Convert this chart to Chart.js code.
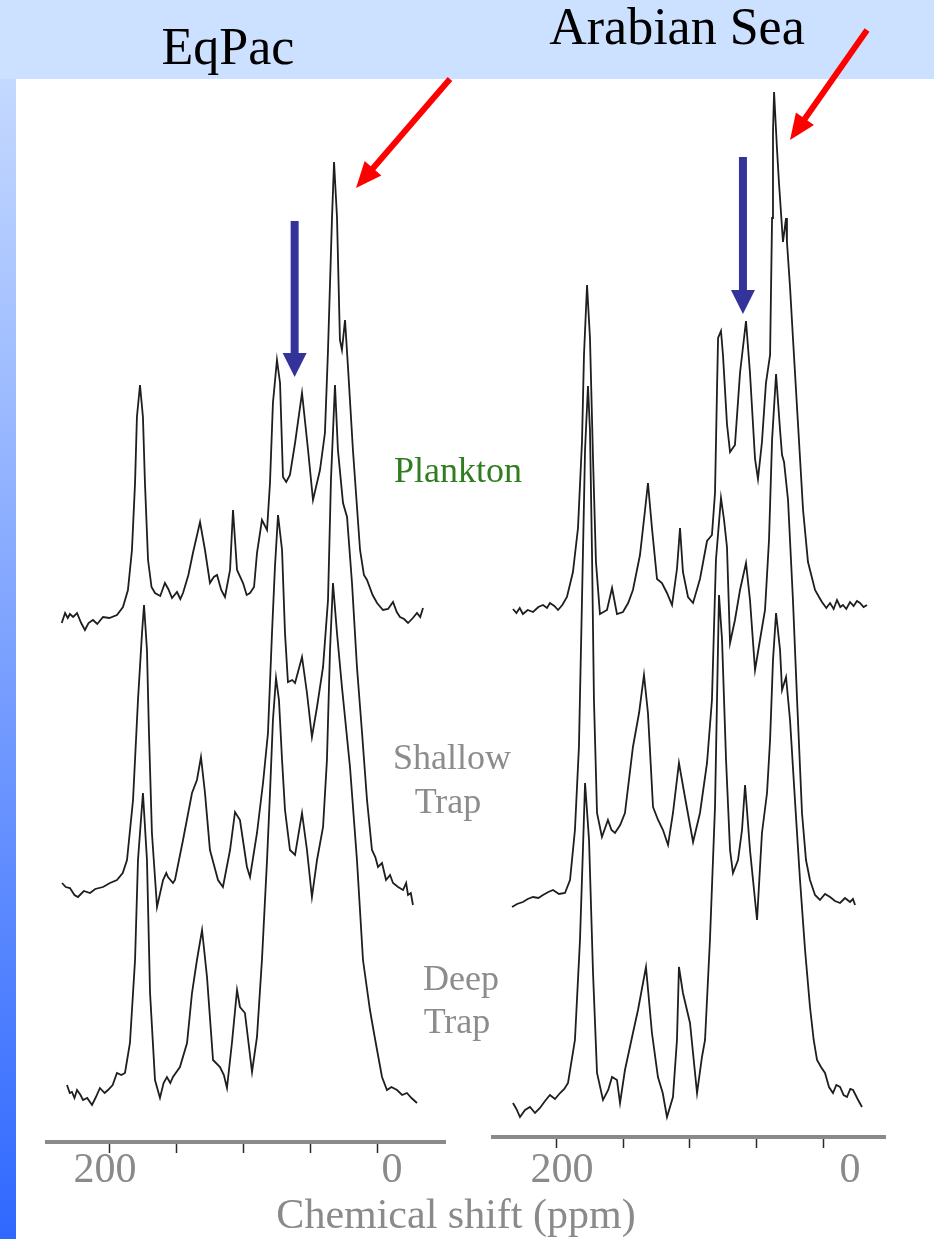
<!DOCTYPE html>
<html>
<head>
<meta charset="utf-8">
<title>13C NMR spectra - EqPac / Arabian Sea</title>
<script src="https://cdn.jsdelivr.net/npm/chart.js@4.4.1/dist/chart.umd.min.js"></script>
<style>
    body {
        margin: 0;
        width: 934px;
        height: 1239px;
        position: relative;
        overflow: hidden;
        background: linear-gradient(to bottom, #cfe1ff 0%, #3068ff 100%);
        font-family: "Liberation Serif", "Times New Roman", serif;
    }
    #band { position: absolute; left: 0; top: 0; width: 934px; height: 79px; background: #cce0ff; }
    #sheet { position: absolute; left: 16px; top: 79px; width: 918px; height: 1160px; background: #fff; }
    canvas { position: absolute; top: 0; }
    .txt { position: absolute; white-space: nowrap; line-height: 1; transform: translateX(-50%); }
    .title { font-size: 52px; color: #000; }
    .tag { font-size: 36px; color: #8c8c8c; }
    .axis { font-size: 42px; color: #8a8a8a; }
</style>
</head>
<body>
<div id="band"></div>
<div id="sheet"></div>

<canvas id="eqpac" width="470" height="1239" style="left:0"></canvas>
<canvas id="arabian" width="464" height="1239" style="left:470px"></canvas>

<div class="txt title" style="left:228px; top:21px">EqPac</div>
<div class="txt title" style="left:677px; top:1px">Arabian Sea</div>

<div class="txt tag" style="left:458px; top:452px; color:#2e7d1f">Plankton</div>
<div class="txt tag" style="left:452px; top:739px">Shallow</div>
<div class="txt tag" style="left:448px; top:783px">Trap</div>
<div class="txt tag" style="left:461px; top:960px">Deep</div>
<div class="txt tag" style="left:457px; top:1003px">Trap</div>

<div class="txt axis" style="left:105px; top:1147px">200</div>
<div class="txt axis" style="left:392px; top:1147px">0</div>
<div class="txt axis" style="left:562px; top:1147px">200</div>
<div class="txt axis" style="left:850px; top:1147px">0</div>
<div class="txt axis" style="left:456px; top:1193px">Chemical shift (ppm)</div>

<script>
"use strict";

// chemical shift ticks (ppm)
const tickPpm = [200, 150, 100, 50, 0];

// spectra as [ppm, intensity] pairs, intensity relative to each trace's own baseline
const eqpacPlankton = [
    [236.0, -6], [233.5, 4], [231.5, -1], [229.9, 3], [227.5, 0], [224.6, 4], [221.5, -6], [218.7, -13],
    [216.0, -6], [212.7, -3], [209.5, -7], [205.2, 0], [200.5, -1], [194.8, 2], [190.3, 10], [186.6, 27],
    [183.6, 67], [181.3, 134], [179.9, 200], [177.6, 232], [175.4, 200], [173.9, 134], [171.6, 57], [169.0, 30],
    [166.4, 24], [162.5, 21], [159.0, 34], [156.5, 28], [153.7, 19], [150.0, 25], [147.5, 18], [145.5, 24],
    [141.5, 42], [138.1, 64], [132.8, 95], [129.1, 67], [125.4, 34], [122.5, 40], [120.1, 42], [117.0, 27],
    [114.2, 20], [110.4, 47], [108.2, 107], [105.2, 47], [100.7, 34], [98.0, 22], [95.5, 24], [92.5, 30],
    [90.3, 64], [86.6, 97], [82.8, 87], [80.6, 134], [78.4, 214], [75.4, 257], [73.1, 234], [70.9, 140],
    [68.5, 135], [65.7, 142], [61.9, 174], [56.7, 224], [52.2, 167], [48.5, 117], [43.3, 147], [39.6, 184],
    [37.3, 267], [34.3, 400], [32.8, 455], [30.6, 400], [28.4, 277], [26.9, 267], [24.6, 297], [22.4, 250],
    [18.7, 167], [13.4, 67], [10.5, 42], [8.2, 37], [4.0, 22], [0.7, 14], [-3.7, 7], [-7.5, 8],
    [-11.2, 15], [-14.0, 5], [-16.4, 0], [-19.5, -2], [-22.4, -6], [-26.0, -1], [-29.1, 4], [-31.5, 0], [-33.6, 9]
];

const eqpacShallow = [
    [235.8, 2], [233.0, -2], [229.9, -3], [226.5, -10], [223.9, -12], [219.5, -6], [214.9, -8], [211.0, -4],
    [205.2, -2], [200.0, 2], [194.8, 5], [190.5, 12], [187.3, 25], [182.8, 85], [179.1, 185], [176.1, 252],
    [174.6, 280], [172.4, 235], [170.9, 152], [168.7, 52], [164.9, -22], [160.4, 5], [158.0, 12], [156.7, 8],
    [153.0, 2], [151.5, 5], [145.5, 45], [138.8, 92], [135.1, 105], [132.1, 128], [129.1, 92], [125.4, 35],
    [122.0, 18], [119.4, 5], [115.7, -2], [110.4, 35], [106.7, 73], [103.0, 65], [97.8, 18], [95.5, 8],
    [90.3, 52], [85.8, 102], [82.1, 152], [79.1, 252], [76.9, 318], [74.6, 370], [71.6, 335], [69.4, 252],
    [67.2, 203], [64.0, 205], [61.9, 202], [56.7, 228], [53.0, 192], [49.3, 148], [45.5, 178], [41.0, 218],
    [37.3, 285], [35.1, 405], [32.1, 500], [29.9, 435], [26.1, 382], [23.1, 368], [19.4, 302], [15.7, 218],
    [11.9, 152], [8.2, 85], [4.5, 35], [2.0, 28], [0.0, 18], [-3.0, 22], [-6.0, 5], [-9.0, 10],
    [-11.2, 2], [-15.0, -2], [-18.7, -5], [-21.0, 2], [-22.4, -10], [-24.5, -8], [-26.1, -20]
];

const eqpacDeep = [
    [232.1, 10], [230.0, 2], [228.4, 3], [226.5, -3], [224.6, 5], [222.0, 0], [220.1, -5], [217.0, -3],
    [213.4, -10], [210.5, -2], [207.5, 7], [204.0, 2], [201.5, 5], [198.0, 10], [194.8, 22], [191.5, 20],
    [188.8, 22], [185.1, 52], [181.3, 135], [179.1, 235], [175.4, 302], [172.4, 235], [170.1, 102], [166.4, 15],
    [162.7, -3], [160.0, 12], [157.5, 18], [155.0, 12], [153.0, 18], [147.8, 28], [142.5, 52], [138.8, 102],
    [135.1, 135], [131.3, 165], [127.6, 118], [123.1, 35], [117.9, 28], [115.0, 20], [112.7, 7], [109.0, 52],
    [105.2, 105], [103.0, 88], [99.3, 82], [94.0, 23], [90.3, 58], [86.6, 135], [82.8, 235], [80.6, 302],
    [78.4, 375], [76.1, 417], [73.9, 395], [71.6, 335], [69.4, 285], [65.7, 245], [61.9, 240], [56.7, 282],
    [53.0, 245], [49.3, 198], [45.5, 235], [41.0, 268], [38.1, 335], [35.8, 445], [33.6, 512], [30.6, 462],
    [26.9, 408], [20.9, 328], [15.7, 235], [11.2, 135], [6.0, 85], [3.0, 62], [0.7, 45], [-3.0, 18],
    [-6.7, 5], [-10.0, 8], [-14.2, 5], [-18.0, 0], [-21.6, 2], [-25.0, -3], [-29.1, -8]
];

const arabianPlankton = [
    [233.1, -4], [230.5, -8], [228.0, -3], [225.6, -9], [222.0, -5], [218.0, -7], [214.0, -2], [210.5, 0],
    [207.5, -3], [205.3, 2], [202.0, -1], [199.2, -5], [196.0, 0], [192.5, 8], [188.0, 33], [184.2, 77],
    [181.2, 163], [179.7, 250], [177.4, 320], [175.2, 267], [172.9, 146], [170.7, 43], [167.7, -9], [162.4, -5],
    [158.6, 17], [154.9, -9], [150.4, -7], [146.5, 2], [142.9, 15], [137.6, 50], [133.8, 95], [131.6, 122],
    [128.6, 77], [124.8, 26], [121.1, 22], [117.3, 12], [113.5, 0], [109.8, 36], [107.5, 77], [105.3, 33],
    [101.5, 8], [97.7, 2], [92.5, 26], [87.2, 64], [83.5, 70], [81.2, 112], [79.7, 215], [78.9, 267],
    [76.7, 274], [75.2, 250], [72.2, 181], [69.9, 153], [66.2, 160], [62.4, 232], [57.9, 284], [54.9, 232],
    [51.1, 146], [48.9, 126], [45.9, 163], [42.9, 222], [39.8, 250], [38.3, 387], [37.6, 473], [36.8, 513],
    [34.6, 456], [33.1, 422], [30.1, 363], [27.8, 387], [27.1, 363], [24.8, 318], [22.6, 267], [18.8, 181],
    [15.0, 95], [11.3, 43], [6.0, 15], [3.0, 8], [0.8, 3], [-2.5, -3], [-5.3, 2], [-8.0, -4],
    [-10.5, 5], [-13.0, -2], [-15.0, 0], [-17.5, -4], [-20.3, 3], [-23.0, -1], [-25.5, 4], [-27.8, 2],
    [-30.5, -2], [-33.1, 0]
];

const arabianShallow = [
    [233.8, -12], [230.0, -9], [225.6, -7], [222.0, -4], [218.0, -2], [214.0, -3], [210.5, 0], [206.5, 3],
    [203.0, 5], [198.5, 1], [194.0, 2], [190.2, 15], [186.5, 65], [183.5, 148], [181.2, 295], [178.9, 445],
    [176.7, 509], [175.2, 465], [173.7, 345], [172.2, 195], [169.9, 82], [166.2, 58], [161.7, 75], [159.0, 65],
    [156.4, 62], [152.5, 70], [148.9, 82], [142.9, 148], [138.3, 182], [134.6, 220], [131.6, 182], [127.8, 88],
    [124.0, 75], [120.3, 65], [116.5, 50], [112.8, 82], [108.3, 132], [103.8, 98], [97.7, 53], [92.5, 82],
    [87.2, 132], [83.5, 195], [80.5, 335], [76.7, 397], [74.4, 375], [72.2, 348], [69.9, 252], [66.2, 275],
    [62.4, 305], [57.9, 332], [54.9, 295], [51.1, 225], [47.4, 255], [43.6, 285], [40.6, 355], [38.3, 455],
    [35.3, 521], [32.3, 465], [30.8, 440], [29.3, 433], [26.3, 395], [22.6, 295], [19.5, 195], [15.8, 82],
    [12.8, 35], [9.8, 15], [6.0, 0], [2.3, -5], [-1.5, 1], [-5.3, -2], [-9.0, -6], [-12.8, -8],
    [-16.5, -3], [-20.3, -7], [-22.5, -4], [-24.1, -10]
];

const arabianDeep = [
    [233.1, -8], [230.5, -14], [227.8, -22], [224.0, -15], [220.3, -12], [216.5, -18], [212.8, -13], [209.0, -6],
    [205.3, 0], [201.5, -4], [197.7, 2], [194.5, 6], [191.7, 12], [186.5, 55], [182.7, 155], [180.5, 245],
    [178.9, 312], [175.9, 255], [172.9, 122], [169.9, 22], [165.4, -5], [161.5, 5], [158.6, 18], [154.9, 15],
    [152.6, -8], [148.9, 25], [142.9, 62], [139.1, 85], [133.1, 128], [128.6, 62], [124.1, 18], [120.5, 2],
    [117.3, -22], [112.8, -2], [109.8, 55], [108.3, 128], [105.3, 102], [100.0, 72], [94.7, 2], [91.0, 38],
    [88.7, 55], [85.0, 155], [81.2, 288], [79.7, 395], [78.2, 500], [75.9, 455], [72.9, 335], [69.9, 245],
    [67.7, 222], [63.9, 235], [60.9, 265], [58.6, 310], [54.9, 245], [49.6, 175], [45.9, 262], [42.1, 302],
    [39.8, 355], [37.6, 435], [35.3, 482], [32.3, 445], [30.8, 405], [27.8, 418], [24.8, 375], [21.1, 295],
    [17.3, 215], [13.5, 145], [9.8, 88], [7.0, 55], [4.5, 35], [1.5, 28], [-1.5, 22], [-4.5, 8],
    [-7.5, 2], [-10.0, 10], [-12.8, 8], [-15.5, 0], [-18.0, -2], [-20.5, 6], [-22.6, 5], [-26.0, -4], [-29.3, -12]
];

// vertical stacking of the traces (plankton, shallow trap, deep trap)
const eqpacOffsets = [525, 257, 47];
const arabianOffsets = [532, 242, 42];

// draws straight arrows given in data coordinates
const arrowPlugin = {
    id: 'arrows',
    afterDatasetsDraw(chart, args, opts) {
        const ctx = chart.ctx;
        const sx = chart.scales.x, sy = chart.scales.y;
        (opts.items || []).forEach(a => {
            const x0 = sx.getPixelForValue(a.from[0]), y0 = sy.getPixelForValue(a.from[1]);
            const x1 = sx.getPixelForValue(a.to[0]), y1 = sy.getPixelForValue(a.to[1]);
            const len = Math.hypot(x1 - x0, y1 - y0);
            const ux = (x1 - x0) / len, uy = (y1 - y0) / len;
            const bx = x1 - ux * a.head, by = y1 - uy * a.head;

            ctx.save();
            ctx.strokeStyle = a.color;
            ctx.fillStyle = a.color;
            ctx.lineWidth = a.width;
            ctx.lineCap = 'butt';
            ctx.beginPath();
            ctx.moveTo(x0, y0);
            ctx.lineTo(bx + ux, by + uy);
            ctx.stroke();

            ctx.beginPath();
            ctx.moveTo(x1, y1);
            ctx.lineTo(bx - uy * a.headWidth / 2, by + ux * a.headWidth / 2);
            ctx.lineTo(bx + uy * a.headWidth / 2, by - ux * a.headWidth / 2);
            ctx.closePath();
            ctx.fill();
            ctx.restore();
        });
    }
};

const makePanel = (id, traces, offsets, xMin, xMax, yMax, padding, arrows) => {
    const datasets = traces.map((t, i) => ({
        data: t.map(p => ({ x: p[0], y: p[1] + offsets[i] })),
        borderColor: '#1e1e1e',
        borderWidth: 1.8,
        pointRadius: 0,
        tension: 0,
        fill: false
    }));

    new Chart(document.getElementById(id), {
        type: 'line',
        data: { datasets: datasets },
        options: {
            responsive: false,
            animation: false,
            devicePixelRatio: 1,
            layout: { padding: padding },
            plugins: {
                legend: { display: false },
                tooltip: { enabled: false },
                arrows: { items: arrows }
            },
            scales: {
                x: {
                    type: 'linear',
                    reverse: true,
                    min: xMin,
                    max: xMax,
                    afterBuildTicks: (axis) => {
                        axis.ticks = tickPpm.map(v => ({ value: v }));
                    },
                    ticks: { display: false },
                    grid: {
                        drawOnChartArea: false,
                        drawTicks: true,
                        tickLength: 11,
                        tickWidth: 1.5,
                        tickColor: '#2a2a2a'
                    },
                    border: { display: true, color: '#8a8a8a', width: 4 }
                },
                y: { display: false, min: 0, max: yMax }
            }
        },
        plugins: [arrowPlugin]
    });
};

makePanel('eqpac', [eqpacPlankton, eqpacShallow, eqpacDeep], eqpacOffsets,
    -50, 247, 1142, { left: 47, right: 25, top: 0, bottom: 86 },
    [
        { from: [62.2, 921], to: [62.2, 765], color: '#333399', width: 8, head: 24, headWidth: 24 },
        { from: [-53.7, 1063], to: [16.4, 954], color: '#ff0000', width: 6, head: 26, headWidth: 22 }
    ]);

makePanel('arabian', [arabianPlankton, arabianShallow, arabianDeep], arabianOffsets,
    -46.6, 248.1, 1137, { left: 23, right: 49, top: 0, bottom: 91 },
    [
        { from: [60.2, 980], to: [60.2, 823], color: '#333399', width: 8, head: 24, headWidth: 24 },
        { from: [-33.1, 1107], to: [24.8, 997], color: '#ff0000', width: 6, head: 26, headWidth: 22 }
    ]);
</script>
</body>
</html>
